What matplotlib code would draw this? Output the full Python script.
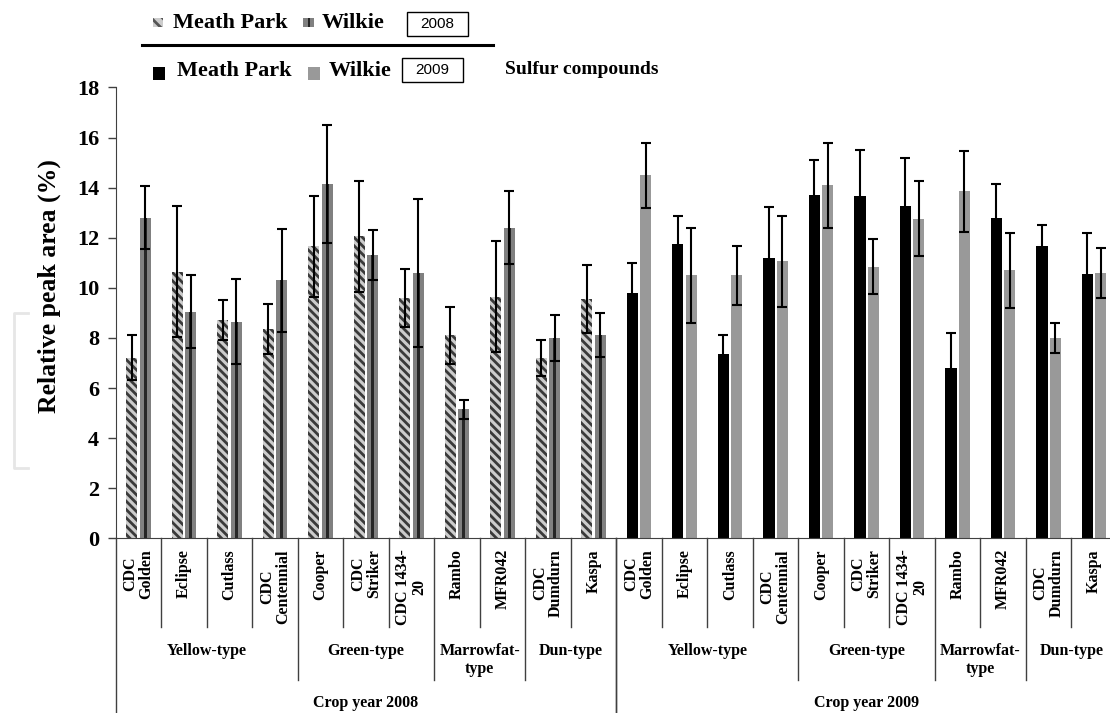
import numpy as np
from matplotlib import pyplot as plt
from matplotlib.patches import Rectangle
from matplotlib.lines import Line2D

# cultivars, repeated for each crop year
cultivars = ["CDC\nGolden", "Eclipse", "Cutlass", "CDC\nCentennial", "Cooper",
             "CDC\nStriker", "CDC 1434-\n20", "Rambo", "MFR042", "CDC\nDumdurn", "Kaspa"]
types = ["Yellow-type", "Green-type", "Marrowfat-\ntype", "Dun-type"]
type_counts = [4, 3, 2, 2]
years = ["Crop year 2008", "Crop year 2009"]

# relative peak area (%) and error
mp_2008 = [7.2, 10.65, 8.7, 8.35, 11.65, 12.05, 9.6, 8.1, 9.65, 7.2, 9.55]
mp_2008_err = [0.9, 2.6, 0.8, 1.0, 2.0, 2.2, 1.15, 1.15, 2.2, 0.72, 1.37]
wk_2008 = [12.8, 9.05, 8.65, 10.3, 14.15, 11.3, 10.6, 5.15, 12.4, 8.0, 8.1]
wk_2008_err = [1.25, 1.45, 1.7, 2.05, 2.35, 1.0, 2.95, 0.38, 1.45, 0.93, 0.88]
mp_2009 = [9.8, 11.75, 7.35, 11.2, 13.7, 13.65, 13.25, 6.8, 12.8, 11.65, 10.55]
mp_2009_err = [1.18, 1.13, 0.75, 2.04, 1.4, 1.85, 1.93, 1.4, 1.33, 0.87, 1.65]
wk_2009 = [14.5, 10.5, 10.5, 11.05, 14.1, 10.85, 12.75, 13.85, 10.7, 8.0, 10.6]
wk_2009_err = [1.3, 1.9, 1.17, 1.8, 1.7, 1.1, 1.5, 1.62, 1.5, 0.6, 1.0]

plt.rcParams['font.family'] = 'Liberation Serif'
plt.rcParams['font.weight'] = 'bold'
plt.rcParams['hatch.linewidth'] = 2.0

W, H = 1110, 713
fig = plt.figure(figsize=(W / 100, H / 100), dpi=100)
ax = fig.add_axes([115.7 / W, 174.7 / H, 1 - 115.7 / W, 450.9 / H])

n = len(cultivars)
x08 = np.arange(n)
x09 = np.arange(n) + n
bw = 0.245

ax.bar(x08 + 0.355, mp_2008, bw, color='#cccccc', edgecolor='#3a3a3a',
       hatch='\\\\\\\\', linewidth=0)
ax.bar(x08 + 0.648, wk_2008, bw, color='#808080', linewidth=0)
ax.bar(x08 + 0.648, wk_2008, 0.07, color='#262626', linewidth=0)
ax.bar(x09 + 0.355, mp_2009, bw, color='black', linewidth=0)
ax.bar(x09 + 0.648, wk_2009, bw, color='#999999', linewidth=0)

for pos, vals, errs in [(x08 + 0.355, mp_2008, mp_2008_err),
                        (x08 + 0.648, wk_2008, wk_2008_err),
                        (x09 + 0.355, mp_2009, mp_2009_err),
                        (x09 + 0.648, wk_2009, wk_2009_err)]:
    ax.errorbar(pos, vals, yerr=errs, fmt='none', ecolor='black',
                elinewidth=1.5, capsize=3.6, capthick=1.5)

ax.set_xlim(0, 21.85)
ax.set_ylim(0, 18)
ax.set_yticks(np.arange(0, 19, 2))
ax.set_xticks([])
ax.tick_params(axis='y', length=6, width=1, color='#404040', pad=6, labelsize=16)
for s in ['top', 'right']:
    ax.spines[s].set_visible(False)
ax.spines['left'].set_color('#404040')
ax.spines['bottom'].set_color('#404040')

# category axis below the plot
trans = ax.get_xaxis_transform()
type_edges = np.cumsum([0] + type_counts)
for yr in range(2):
    off = yr * n
    for k in range(n + 1):
        if k == 0 or k == n:
            depth = -0.42
        elif k in type_edges:
            depth = -0.314
        else:
            depth = -0.196
        ax.plot([off + k, off + k], [0, depth], transform=trans, clip_on=False,
                color='#404040', lw=1)
    for i, name in enumerate(cultivars):
        ax.text(off + i + 0.5, -0.024, name, transform=trans, rotation=90,
                ha='center', va='top', multialignment='center', fontsize=11.5,
                linespacing=1.0)
    for t, name in enumerate(types):
        c = off + (type_edges[t] + type_edges[t + 1]) / 2
        ax.text(c, -0.232, name, transform=trans, ha='center', va='top',
                fontsize=11.5, linespacing=1.15)
    ax.text(off + n / 2, -0.366, years[yr], transform=trans, ha='center',
            va='center', fontsize=11.5)

fig.text(49 / W, 1 - 286 / H, 'Relative peak area (%)', rotation=90,
         ha='center', va='center', fontsize=18.5)
fig.text(505 / W, 1 - 70 / H, 'Sulfur compounds', ha='left', va='center',
         fontsize=14)

# legend
def box(x0, y0, w, h, **kw):
    fig.patches.append(Rectangle((x0 / W, 1 - (y0 + h) / H), w / W, h / H,
                                 transform=fig.transFigure, **kw))

box(153, 18, 10, 9, facecolor='#cccccc', edgecolor='#555555', hatch='\\\\\\', lw=0)
fig.text(173 / W, 1 - 23 / H, 'Meath Park', va='center', fontsize=16)
box(303, 18, 11, 9, facecolor='#808080', lw=0)
box(307.5, 18, 2.5, 9, facecolor='#262626', lw=0)
fig.text(322 / W, 1 - 23 / H, 'Wilkie', va='center', fontsize=16)
box(407, 12, 61, 24, facecolor='white', edgecolor='black', lw=1)
fig.text(437.5 / W, 1 - 24 / H, '2008', ha='center', va='center', fontsize=11,
         family='Liberation Sans', fontweight='normal')

fig.lines.append(Line2D([142 / W, 493 / W], [1 - 45 / H, 1 - 45 / H], lw=2.2,
                        color='black', transform=fig.transFigure))

box(153, 67, 12, 13, facecolor='black', lw=0)
fig.text(177 / W, 1 - 71 / H, 'Meath Park', va='center', fontsize=16)
box(308, 67, 12, 13, facecolor='#999999', lw=0)
fig.text(329 / W, 1 - 71 / H, 'Wilkie', va='center', fontsize=16)
box(402, 58, 61, 24, facecolor='white', edgecolor='black', lw=1)
fig.text(432.5 / W, 1 - 70 / H, '2009', ha='center', va='center', fontsize=11,
         family='Liberation Sans', fontweight='normal')

# faint bracket at left edge
fig.lines.append(Line2D(np.array([28, 14, 14, 28]) / W,
                        1 - np.array([313, 313, 468, 468]) / H, lw=2,
                        color='#e6e6e6', transform=fig.transFigure))

fig.savefig('out.png', dpi=100)
